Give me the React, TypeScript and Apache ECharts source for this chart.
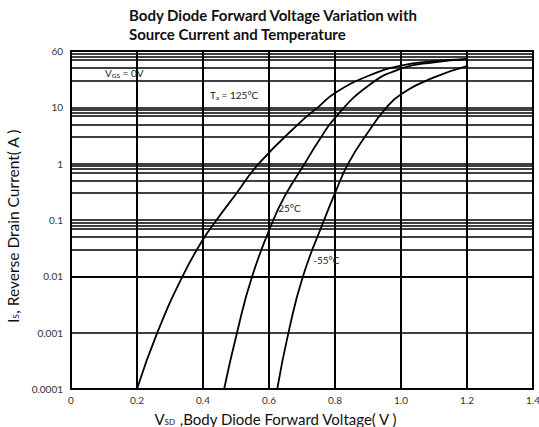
import React, { useEffect, useRef } from "react";
import * as echarts from "echarts";

// Reverse drain current I_S (A) vs body diode forward voltage V_SD (V)
const v125 = [0.2, 0.2615, 0.338, 0.4, 0.441, 0.5, 0.569, 0.7, 0.748, 0.8, 0.9, 1.0, 1.1, 1.2];
const i125 = [0.0001, 0.001, 0.01, 0.045, 0.1, 0.29, 1, 5.8, 10, 18, 36, 55, 66, 72];

const v25 = [0.464, 0.503, 0.549, 0.613, 0.65, 0.708, 0.75, 0.8, 0.9, 1.0, 1.1, 1.2];
const i25 = [0.0001, 0.001, 0.01, 0.1, 0.28, 1, 2.5, 6.5, 24, 48.5, 63, 72];

const vm55 = [0.625, 0.659, 0.703, 0.767, 0.8, 0.84, 0.9, 0.95, 1.0, 1.1, 1.2];
const im55 = [0.0001, 0.001, 0.01, 0.1, 0.3, 1, 3.6, 9, 17, 34, 54];

// Axis ticks
const yTickLabels = ["0.0001", "0.001", "0.01", "0.1", "1", "10", "60"];
const decadeBases = [0.0001, 0.001, 0.01, 0.1, 1, 10];
const minorMultipliers = [3, 5, 7, 8, 9];

// Annotations (data coordinates)
const annoText = ["V{sub|GS} = 0V", "T{sub|a} = 125°C", "25°C", "-55°C"];
const annoX = [0.103, 0.421, 0.628, 0.734];
const annoY = [40, 16.6, 0.161, 0.0195];

const FONT = "Lato, 'Liberation Sans', sans-serif";

export default function App() {
  const ref = useRef<HTMLDivElement>(null);
  useEffect(() => {
    if (!ref.current) return;
    const chart = echarts.init(ref.current, null, { renderer: "svg" });
    const gridVals: number[] = [];
    decadeBases.forEach((b) => minorMultipliers.forEach((m) => gridVals.push(b * m)));
    const curveStyle = { color: "#000", width: 1.8 };
    const mk = (xs: number[], ys: number[]) => xs.map((x, i) => [x, ys[i]]);
    const richSmall = { sub: { fontSize: 6.5, fontFamily: FONT, color: "#000", padding: [5, 0, 0, 0] } };
    const richName = { sub: { fontSize: 8, fontFamily: FONT, color: "#111", padding: [6, 0, 0, 0] } };
    chart.setOption({
      animation: false,
      backgroundColor: "#fff",
      textStyle: { fontFamily: FONT },
      title: {
        text: "Body Diode Forward Voltage Variation with\nSource Current and Temperature",
        left: 129,
        top: 5,
        padding: 0,
        textStyle: { fontFamily: FONT, fontSize: 15, fontWeight: "bold", color: "#111", lineHeight: 19 },
      },
      grid: {
        left: 71,
        top: 51,
        width: 462,
        height: 338,
        containLabel: false,
        outerBoundsMode: "none",
        show: true,
        borderColor: "#000",
        borderWidth: 2,
        backgroundColor: "transparent",
      },
      xAxis: {
        type: "value",
        min: 0,
        max: 1.4,
        interval: 0.2,
        axisLine: { show: true, lineStyle: { color: "#000", width: 2 } },
        axisTick: { show: false },
        splitLine: { show: true, lineStyle: { color: "#000", width: 2 } },
        axisLabel: {
          color: "#333",
          fontSize: 10,
          fontFamily: FONT,
          margin: 6,
          formatter: (v: number) => (v === 0 ? "0" : v.toFixed(1)),
        },
        name: "V{sub|SD} ,Body Diode Forward Voltage( V )",
        nameLocation: "middle",
        nameGap: 22,
        nameTextStyle: { fontSize: 15, fontFamily: FONT, color: "#111", padding: [0, 52, 0, 0], rich: richName },
      },
      yAxis: {
        type: "log",
        logBase: 10,
        min: 0.0001,
        max: 100,
        axisLine: { show: true, lineStyle: { color: "#000", width: 2 } },
        axisTick: { show: false },
        splitLine: { show: true, lineStyle: { color: "#000", width: 1.5 } },
        axisLabel: {
          color: "#333",
          fontSize: 10,
          fontFamily: FONT,
          margin: 8,
          formatter: (v: number) => {
            const k = Math.round(Math.log10(v)) + 4;
            return yTickLabels[k] ?? "";
          },
        },
        name: "I{sub|S}, Reverse Drain Current( A )",
        nameLocation: "middle",
        nameRotate: 90,
        nameGap: 30,
        nameTextStyle: { fontSize: 15.5, fontFamily: FONT, color: "#111", padding: [0, 12, 0, 0], rich: richName },
      },
      series: [
        {
          name: "125°C",
          type: "line",
          data: mk(v125, i125),
          symbol: "none",
          smooth: 0.5,
          lineStyle: curveStyle,
          z: 5,
          markLine: {
            silent: true,
            symbol: ["none", "none"],
            label: { show: false },
            lineStyle: { color: "#000", width: 1.5, type: "solid" },
            data: gridVals.map((v) => ({ yAxis: v })),
            z: 1,
          },
          markPoint: {
            silent: true,
            symbol: "circle",
            symbolSize: 0,
            data: annoText.map((t, i) => ({
              coord: [annoX[i], annoY[i]],
              label: {
                show: true,
                position: "right",
                distance: 0,
                formatter: t,
                fontSize: 10,
                fontFamily: FONT,
                color: "#222",
                rich: richSmall,
              },
            })),
          },
        },
        {
          name: "25°C",
          type: "line",
          data: mk(v25, i25),
          symbol: "none",
          smooth: 0.5,
          lineStyle: curveStyle,
          z: 5,
        },
        {
          name: "-55°C",
          type: "line",
          data: mk(vm55, im55),
          symbol: "none",
          smooth: 0.5,
          lineStyle: curveStyle,
          z: 5,
        },
      ],
    });
    return () => chart.dispose();
  }, []);
  return <div ref={ref} style={{ position: "fixed", left: 0, top: 0, width: 539, height: 427 }} />;
}
